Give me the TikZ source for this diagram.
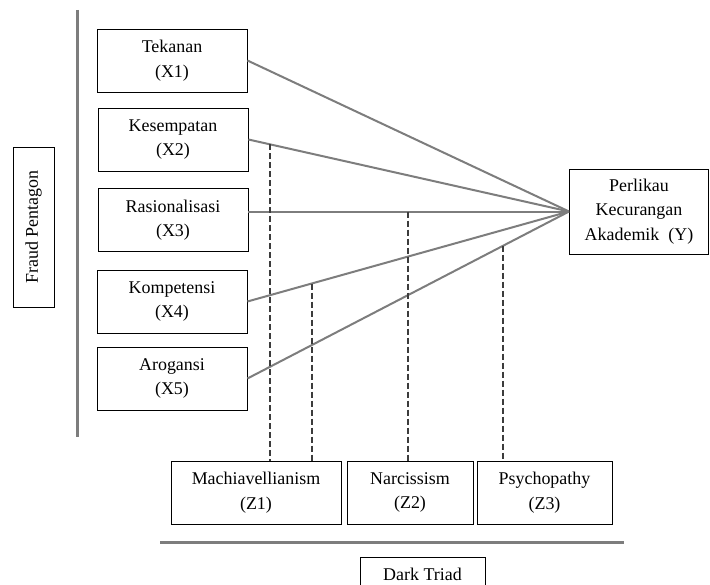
\documentclass[tikz,border=0pt]{standalone}
\usepackage{fontspec}
\setmainfont{Liberation Serif}
\definecolor{linegray}{RGB}{125,125,125}
\definecolor{dashgray}{RGB}{60,60,60}
\begin{document}
\begin{tikzpicture}
      [x=1bp,y=-1bp,every node/.style={draw=black,line width=0.9bp,align=center,inner sep=2bp,font=\fontsize{18}{24.5}\selectfont},
       varbox/.style={minimum width=150bp,minimum height=63bp}]
	\useasboundingbox (0,0) rectangle (710,585);
	\clip (0,0) rectangle (710,585);

	\node (x1) [varbox] at (172,60.5)  {Tekanan\\(X1)};
	\node (x2) [varbox] at (173,139.5) {Kesempatan\\(X2)};
	\node (x3) [varbox] at (173,220)   {Rasionalisasi\\(X3)};
	\node (x4) [varbox] at (172,301.5) {Kompetensi\\(X4)};
	\node (x5) [varbox] at (172,378.5) {Arogansi\\(X5)};
	\node (y)  [minimum width=139bp,minimum height=85bp] at (639,211.5) {Perlikau\\Kecurangan\\Akademik\ \ (Y)};

	\node (z1) [minimum width=170bp,minimum height=63bp] at (256,492.5) {Machiavellianism\\(Z1)};
	\node (z2) [minimum width=126bp,minimum height=63bp] at (410,492.5) {Narcissism\\(Z2)};
	\node (z3) [minimum width=135bp,minimum height=63bp] at (544.5,492.5) {Psychopathy\\(Z3)};

	\node (fp) [rotate=90,minimum width=160bp,minimum height=41bp] at (33.5,227) {Fraud Pentagon};
	\node (dt) [minimum width=125bp,minimum height=34bp] at (422.5,574) {Dark Triad};

	% group bars
	\draw[linegray,line width=3bp] (77,10) -- (77,437);
	\draw[linegray,line width=3bp] (160,542) -- (624,542);

	\foreach \from in {x1,x2,x4,x5}
	  \draw[linegray,line width=2bp] (\from.east) -- (y.west);
	\draw[linegray,line width=2bp] (x3.east |- y.west) -- (y.west);

	\path (x2.east) -- (y.west) coordinate[pos=0.066] (m1);
	\path (x4.east) -- (y.west) coordinate[pos=0.200] (m2);
	\path (x3.east |- y.west) -- (y.west) coordinate[pos=0.498] (m3);
	\path (x5.east) -- (y.west) coordinate[pos=0.795] (m4);

	\foreach \at/\to in {m1/z1,m2/z1,m3/z2,m4/z3}
	  \draw[dashgray,line width=1.8bp,dash pattern=on 6bp off 3bp] (\at) -- (\at |- \to.north);
      \end{tikzpicture}
\end{document}
